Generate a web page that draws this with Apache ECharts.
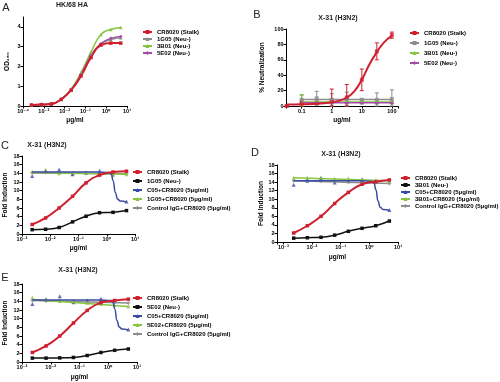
<!DOCTYPE html>
<html>
<head>
<meta charset="utf-8">
<script src="https://cdn.jsdelivr.net/npm/echarts@6/dist/echarts.min.js"></script>
<style>
html, body { margin: 0; background: #fff; }
#main { width: 500px; height: 382px; }
</style>
</head>
<body>
<div id="main"></div>
<script>
var FONT = '"Liberation Sans", Arial, "DejaVu Sans", sans-serif';
var RED = '#cf2030', BLACK = '#111111', BLUE = '#3b4aa3', GREEN = '#86c442', GREY = '#8c8c8c', PURPLE = '#a24ca6';

// tick labels
var expTicks = [-4, -3, -2, -1, 0, 1];
var expLabels = ['10\u207b\u2074', '10\u207b\u00b3', '10\u207b\u00b2', '10\u207b\u00b9', '10\u2070', '10\u00b9'];
var bTickValues = [0.1, 1, 10, 100];
var bTickLabels = ['0.1', '1', '10', '100'];

// A: HK/68 HA binding (OD450)
var doseA = [0.000254, 0.000762, 0.00229, 0.00686, 0.0206, 0.0617, 0.185, 0.556, 1.67, 5];
var odA_CR8020 = [0.05, 0.07, 0.1, 0.33, 0.8, 1.52, 2.45, 3.08, 3.18, 3.18];
var odA_1G05 = [0.05, 0.07, 0.1, 0.34, 0.82, 1.62, 2.55, 3.15, 3.36, 3.45];
var odA_3B01 = [0.05, 0.07, 0.1, 0.35, 0.85, 1.7, 2.72, 3.62, 3.87, 3.97];
var odA_5E02 = [0.05, 0.07, 0.1, 0.34, 0.82, 1.6, 2.55, 3.15, 3.42, 3.52];

// B: X-31 neutralization (%)
var doseB = [0.0316, 0.1, 0.316, 1, 3.16, 10, 31.6, 100];
var neutB_CR8020 = [0, 4, 4, 7, 11, 34, 71, 92];
var errB_CR8020 = [0, 4, 2, 15, 17, 14, 11, 4];
var doseBneg = [0.1, 0.316, 1, 3.16, 10, 31.6, 100];
var neutB_1G05 = [8, 10, 8, 8, 7, 8, 9];
var errB_1G05 = [6, 9, 8, 10, 3, 9, 12];
var neutB_3B01 = [6, 5, 5, 5, 5, 5, 5];
var errB_3B01 = [9, 2, 2, 2, 2, 2, 2];
var neutB_5E02 = [4, 4, 4, 4, 4, 4, 4];
var errB_5E02 = [1, 1, 1, 1, 1, 1, 1];
var fitBx = [0.0316, 0.1, 0.316, 1, 1.8, 3.16, 5.6, 10, 17.8, 31.6, 56, 100];
var fitB_CR8020 = [2, 2.3, 3, 5, 7, 11, 19, 34, 54, 70, 83, 91];
var fitBnegX = [0.1, 100];
var fitB_1G05 = [8.3, 8.3];
var fitB_3B01 = [5.3, 5.3];
var fitB_5E02 = [4.2, 4.2];

// C, D, E: X-31 fold induction
var doseCDE = [0.00229, 0.00686, 0.0206, 0.0617, 0.185, 0.556, 1.67, 5];
var flatX = [0.00229, 5];
var fitC05x = [0.00229, 0.5, 1.2, 1.45, 1.7, 2.0, 2.4, 3.0, 5];

var foldC_CR8020 = [2.2, 3.7, 6.0, 8.7, 11.8, 13.6, 14.3, 14.5];
var foldC_1G05 = [1.0, 1.1, 1.5, 2.8, 4.1, 4.9, 5.0, 5.4];
var foldC_C05 = [13.4, 14.4, 14.9, 13.8, 14.2, 14.6, 14.0, 7.5];
var foldC_mix = [14.3, 14.8, 14.0, 14.0, 14.1, 14.0, 13.6, 13.8];
var foldC_ctrl = [14.2, 14.2, 14.1, 14.1, 14.0, 14.0, 13.9, 13.9];
var fitC_C05 = [14.3, 14.3, 14.2, 13.8, 12.2, 9.6, 8.1, 7.6, 7.4];
var fitC_mix = [14.2, 13.8];
var fitC_ctrl = [14.1, 13.9];

var foldD_CR8020 = [2.1, 3.8, 6.0, 9.0, 11.6, 13.5, 14.1, 14.5];
var foldD_3B01 = [0.9, 1.0, 1.1, 1.6, 2.5, 3.2, 3.8, 4.9];
var foldD_C05 = [13.4, 14.3, 14.9, 13.9, 14.2, 14.6, 14.0, 7.5];
var foldD_mix = [15.0, 15.0, 15.0, 14.8, 14.9, 14.6, 14.4, 14.2];
var foldD_ctrl = [14.3, 14.3, 14.2, 14.2, 14.1, 14.0, 13.9, 13.7];
var fitD_C05 = [14.3, 14.3, 14.2, 13.8, 12.2, 9.6, 8.1, 7.6, 7.4];
var fitD_mix = [15.0, 14.3];
var fitD_ctrl = [14.3, 13.7];

var foldE_CR8020 = [2.2, 3.7, 6.0, 9.0, 11.9, 13.7, 14.2, 14.5];
var foldE_5E02 = [0.9, 0.9, 0.95, 1.05, 1.5, 2.2, 2.7, 3.0];
var foldE_C05 = [13.4, 14.4, 15.2, 13.8, 14.2, 14.6, 14.0, 7.5];
var foldE_mix = [14.9, 14.4, 14.1, 13.9, 13.7, 13.4, 13.1, 12.8];
var foldE_ctrl = [14.2, 14.1, 14.1, 14.0, 14.0, 13.9, 13.8, 13.6];
var fitE_C05 = [14.3, 14.3, 14.2, 13.8, 12.2, 9.6, 8.1, 7.6, 7.4];
var fitE_mix = [14.4, 12.8];
var fitE_ctrl = [14.2, 13.6];

function pairs(xs, ys) {
    return xs.map(function (x, i) { return [x, ys[i]]; });
}

// curve, markers on it unless showSym is false
function curve(id, g, xs, ys, color, symbol, width, showSym, mono) {
    return {
        type: 'line', name: id, xAxisIndex: g, yAxisIndex: g,
        data: pairs(xs, ys), smooth: 0.5, smoothMonotone: mono ? 'x' : null,
        symbol: symbol, symbolSize: 3.5, showSymbol: showSym !== false,
        lineStyle: { color: color, width: width }, itemStyle: { color: color },
        silent: true
    };
}

function dots(id, g, xs, ys, color, symbol) {
    return {
        type: 'scatter', name: id + ' pts', xAxisIndex: g, yAxisIndex: g,
        data: pairs(xs, ys), symbol: symbol, symbolSize: 4,
        itemStyle: { color: color }, silent: true
    };
}

function errBars(id, g, xs, ys, es, color) {
    return {
        type: 'custom', name: id + ' err', xAxisIndex: g, yAxisIndex: g,
        data: xs.map(function (x, i) { return [x, Math.max(ys[i] - es[i], 0), ys[i] + es[i]]; }),
        encode: { x: 0, y: [1, 2] },
        renderItem: function (params, api) {
            var lo = api.coord([api.value(0), api.value(1)]);
            var hi = api.coord([api.value(0), api.value(2)]);
            var st = { stroke: color, lineWidth: 1 };
            return {
                type: 'group', children: [
                    { type: 'line', shape: { x1: lo[0], y1: lo[1], x2: hi[0], y2: hi[1] }, style: st },
                    { type: 'line', shape: { x1: hi[0] - 2, y1: hi[1], x2: hi[0] + 2, y2: hi[1] }, style: st },
                    { type: 'line', shape: { x1: lo[0] - 2, y1: lo[1], x2: lo[0] + 2, y2: lo[1] }, style: st }
                ]
            };
        },
        silent: true
    };
}

function expFmt(v) {
    var l = Math.log10(v), e = Math.round(l);
    var i = expTicks.indexOf(e);
    return (Math.abs(l - e) < 1e-6 && i >= 0) ? expLabels[i] : '';
}
function bFmt(v) {
    for (var i = 0; i < bTickValues.length; i++) {
        if (Math.abs(v - bTickValues[i]) / bTickValues[i] < 1e-6) return bTickLabels[i];
    }
    return '';
}

var axisText = { fontSize: 5.5, fontFamily: FONT, fontWeight: 'bold', color: '#000', margin: 2.5 };
var nameText = { fontSize: 6.5, fontFamily: FONT, fontWeight: 'bold', color: '#000' };

function xLog(g, min, max, name, gap, fmt) {
    return {
        type: 'log', logBase: 10, gridIndex: g, min: min, max: max,
        name: name, nameLocation: 'middle', nameGap: gap, nameTextStyle: nameText,
        axisLine: { onZero: false, lineStyle: { color: '#000', width: 1 } },
        axisTick: { length: 2.5, lineStyle: { color: '#000' } },
        axisLabel: Object.assign({ formatter: fmt }, axisText),
        splitLine: { show: false }
    };
}
function yVal(g, max, interval, name, gap) {
    return {
        type: 'value', gridIndex: g, min: 0, max: max, interval: interval,
        name: name, nameLocation: 'middle', nameGap: gap, nameRotate: 90, nameTextStyle: nameText,
        axisLine: { show: true, onZero: false, lineStyle: { color: '#000', width: 1 } },
        axisTick: { show: true, length: 2.5, lineStyle: { color: '#000' } },
        axisLabel: Object.assign({ showMaxLabel: max % interval === 0 }, axisText),
        splitLine: { show: false }
    };
}

function legendFor(names, left, top, gap) {
    return {
        data: names, left: left, top: top, orient: 'vertical', padding: 0,
        itemWidth: 9, itemHeight: 5, itemGap: gap, selectedMode: false,
        formatter: function (n) { return n.split('|')[1]; },
        textStyle: { fontSize: 6, fontWeight: 'bold', fontFamily: FONT, color: '#000' }
    };
}

function label(text, x, y, size, weight) {
    return {
        type: 'text', x: x, y: y, silent: true,
        style: { text: text, align: 'center', verticalAlign: 'middle', fill: '#222',
                 font: (weight || 'bold') + ' ' + size + 'px ' + FONT }
    };
}

var series = [
    // A
    curve('A|1G05 (Neu-)', 0, doseA, odA_1G05, GREY, 'triangle', 1.5),
    curve('A|3B01 (Neu-)', 0, doseA, odA_3B01, GREEN, 'triangle', 1.5),
    curve('A|5E02 (Neu-)', 0, doseA, odA_5E02, PURPLE, 'diamond', 1.5),
    curve('A|CR8020 (Stalk)', 0, doseA, odA_CR8020, RED, 'rect', 2),
    // B
    errBars('B|1G05', 1, doseBneg, neutB_1G05, errB_1G05, GREY),
    errBars('B|3B01', 1, doseBneg, neutB_3B01, errB_3B01, GREEN),
    errBars('B|5E02', 1, doseBneg, neutB_5E02, errB_5E02, PURPLE),
    curve('B|1G05 (Neu-)', 1, fitBnegX, fitB_1G05, GREY, 'rect', 1.5, false),
    curve('B|3B01 (Neu-)', 1, fitBnegX, fitB_3B01, GREEN, 'triangle', 1.5, false),
    curve('B|5E02 (Neu-)', 1, fitBnegX, fitB_5E02, PURPLE, 'diamond', 1.5, false),
    dots('B|1G05', 1, doseBneg, neutB_1G05, GREY, 'rect'),
    dots('B|3B01', 1, doseBneg, neutB_3B01, GREEN, 'triangle'),
    dots('B|5E02', 1, doseBneg, neutB_5E02, PURPLE, 'diamond'),
    errBars('B|CR8020', 1, doseB, neutB_CR8020, errB_CR8020, RED),
    curve('B|CR8020 (Stalk)', 1, fitBx, fitB_CR8020, RED, 'rect', 2, false),
    dots('B|CR8020', 1, doseB, neutB_CR8020, RED, 'rect')
];

// C, D, E share the same set of five series
var cde = [
    { p: 'C', g: 2, neu: '1G05', red: foldC_CR8020, blk: foldC_1G05, c05: foldC_C05, fc05: fitC_C05, mix: foldC_mix, fmix: fitC_mix, ctrl: foldC_ctrl, fctrl: fitC_ctrl },
    { p: 'D', g: 3, neu: '3B01', red: foldD_CR8020, blk: foldD_3B01, c05: foldD_C05, fc05: fitD_C05, mix: foldD_mix, fmix: fitD_mix, ctrl: foldD_ctrl, fctrl: fitD_ctrl },
    { p: 'E', g: 4, neu: '5E02', red: foldE_CR8020, blk: foldE_5E02, c05: foldE_C05, fc05: fitE_C05, mix: foldE_mix, fmix: fitE_mix, ctrl: foldE_ctrl, fctrl: fitE_ctrl }
];
var legendNames = {};
cde.forEach(function (d) {
    var n = {
        red: d.p + '|CR8020 (Stalk)',
        blk: d.p + '|' + d.neu + ' (Neu-)',
        c05: d.p + '|C05+CR8020 (5\u03bcg/ml)',
        mix: d.p + '|' + d.neu + '+CR8020 (5\u03bcg/ml)',
        ctrl: d.p + '|Control IgG+CR8020 (5\u03bcg/ml)'
    };
    legendNames[d.p] = [n.red, n.blk, n.c05, n.mix, n.ctrl];
    series.push(
        curve(n.ctrl, d.g, flatX, d.fctrl, GREY, 'diamond', 1.5, false),
        dots(n.ctrl, d.g, doseCDE, d.ctrl, GREY, 'diamond'),
        curve(n.mix, d.g, flatX, d.fmix, GREEN, 'triangle', 1.5, false),
        dots(n.mix, d.g, doseCDE, d.mix, GREEN, 'triangle'),
        curve(n.c05, d.g, fitC05x, d.fc05, BLUE, 'triangle', 1.5, false, true),
        dots(n.c05, d.g, doseCDE, d.c05, BLUE, 'triangle'),
        curve(n.blk, d.g, doseCDE, d.blk, BLACK, 'rect', 1.5),
        curve(n.red, d.g, doseCDE, d.red, RED, 'rect', 2)
    );
});

var chart = echarts.init(document.getElementById('main'));
chart.setOption({
    animation: false,
    backgroundColor: '#fff',
    textStyle: { fontFamily: FONT },
    grid: [
        { left: 23, top: 17, width: 104, height: 89 },
        { left: 286, top: 29, width: 112, height: 77 },
        { left: 22, top: 156, width: 113, height: 78 },
        { left: 277, top: 165, width: 121, height: 77 },
        { left: 22, top: 284, width: 115, height: 78 }
    ],
    xAxis: [
        xLog(0, 0.0001, 10, '\u03bcg/ml', 11, expFmt),
        xLog(1, 0.03, 160, 'ug/ml', 11, bFmt),
        xLog(2, 0.001, 10, '\u03bcg/ml', 11, expFmt),
        xLog(3, 0.0006, 10, '\u03bcg/ml', 12, expFmt),
        xLog(4, 0.001, 10, '\u03bcg/ml', 12, expFmt)
    ],
    yAxis: [
        yVal(0, 4.5, 1, 'OD\u2084\u2085\u2080', 12),
        yVal(1, 100, 20, '% Neutralization', 20),
        yVal(2, 18, 2, 'Fold Induction', 13),
        yVal(3, 18, 2, 'Fold Induction', 11),
        yVal(4, 18, 2, 'Fold Induction', 13)
    ],
    legend: [
        legendFor(['A|CR8020 (Stalk)', 'A|1G05 (Neu-)', 'A|3B01 (Neu-)', 'A|5E02 (Neu-)'], 142, 29, 1),
        legendFor(['B|CR8020 (Stalk)', 'B|1G05 (Neu-)', 'B|3B01 (Neu-)', 'B|5E02 (Neu-)'], 409, 30, 4),
        legendFor(legendNames.C, 132, 169, 3),
        legendFor(legendNames.D, 400, 175, 1),
        legendFor(legendNames.E, 132, 295, 3)
    ],
    graphic: [
        label('A', 6, 8, 11, 'normal'),
        label('B', 257, 15, 11, 'normal'),
        label('C', 5, 146, 11, 'normal'),
        label('D', 255, 153, 11, 'normal'),
        label('E', 5, 278, 11, 'normal'),
        label('HK/68 HA', 72, 5, 7),
        label('X-31 (H3N2)', 338, 18, 7),
        label('X-31 (H3N2)', 47, 145, 7),
        label('X-31 (H3N2)', 341, 154, 7),
        label('X-31 (H3N2)', 78, 270, 7)
    ],
    series: series
});
</script>
</body>
</html>
